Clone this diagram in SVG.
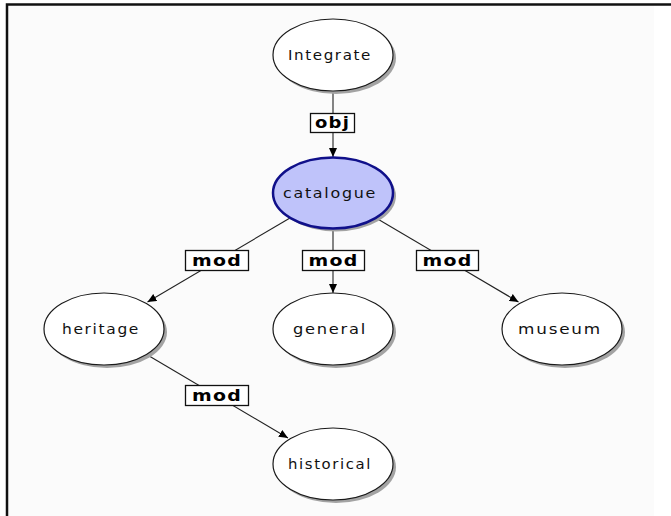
<svg xmlns="http://www.w3.org/2000/svg" width="671" height="516" viewBox="0 0 671 516">
<defs>
<marker id="arr" markerUnits="userSpaceOnUse" markerWidth="9" markerHeight="8" refX="9" refY="4" orient="auto">
<path d="M0,0 L9,4 L0,8 z" fill="#000"/>
</marker>
<style>
.shadow{fill:#a3a3a3}
.node{fill:#fff;stroke:#1a1a1a;stroke-width:1.2}
.focus{fill:#bfc3fa;stroke:#10108a;stroke-width:2.5}
.nt{font-family:"DejaVu Sans",sans-serif;font-size:14px;letter-spacing:1.5px;fill:#111;text-anchor:middle}
.edge{stroke:#222;stroke-width:1.1;fill:none;marker-end:url(#arr)}
.lbox{fill:#fff;stroke:#111;stroke-width:1.3}
.lt{font-family:"DejaVu Sans",sans-serif;font-size:15px;letter-spacing:1px;font-weight:bold;fill:#000;text-anchor:middle}
</style>
</defs>
<rect x="0" y="0" width="671" height="516" fill="#fff"/>
<rect x="8" y="6" width="646" height="510" fill="#fbfbfb"/>
<path d="M7,516 V4.5 H671" fill="none" stroke="#111" stroke-width="2.5"/>
<g id="connectors">
<line class="edge" x1="333" y1="92" x2="333" y2="157"/>
<line class="edge" x1="290" y1="218" x2="147.5" y2="302"/>
<line class="edge" x1="333" y1="229" x2="333" y2="293"/>
<line class="edge" x1="376" y1="218" x2="518.5" y2="302"/>
<line class="edge" x1="147.5" y1="355" x2="288" y2="438"/>
<g id="label-obj"><rect class="lbox" x="310.5" y="113.5" width="44" height="19"/><text class="lt" x="332.5" y="128" textLength="35" lengthAdjust="spacingAndGlyphs">obj</text></g>
<g id="label-mod1"><rect class="lbox" x="185.5" y="250.5" width="63" height="20"/><text class="lt" x="217" y="265.5" textLength="50" lengthAdjust="spacingAndGlyphs">mod</text></g>
<g id="label-mod2"><rect class="lbox" x="302.5" y="250.5" width="62" height="20"/><text class="lt" x="333.5" y="265.5" textLength="50" lengthAdjust="spacingAndGlyphs">mod</text></g>
<g id="label-mod3"><rect class="lbox" x="416.5" y="250.5" width="62" height="20"/><text class="lt" x="447.5" y="265.5" textLength="50" lengthAdjust="spacingAndGlyphs">mod</text></g>
<g id="label-mod4"><rect class="lbox" x="185.5" y="385.5" width="63" height="20"/><text class="lt" x="217" y="400.5" textLength="50" lengthAdjust="spacingAndGlyphs">mod</text></g>
</g>
<g id="integrate">
<ellipse class="shadow" cx="336" cy="58" rx="60" ry="36"/>
<ellipse class="node" cx="333" cy="55" rx="60" ry="36"/>
<text class="nt" x="330" y="60" textLength="84" lengthAdjust="spacingAndGlyphs">Integrate</text>
</g>
<g id="catalogue">
<ellipse class="shadow" cx="336" cy="196" rx="60" ry="35.5"/>
<ellipse class="focus" cx="333" cy="193" rx="60" ry="35.5"/>
<text class="nt" x="330" y="198" textLength="94" lengthAdjust="spacingAndGlyphs">catalogue</text>
</g>
<g id="heritage">
<ellipse class="shadow" cx="107" cy="332" rx="60" ry="36"/>
<ellipse class="node" cx="104" cy="329" rx="60" ry="36"/>
<text class="nt" x="101" y="334" textLength="78" lengthAdjust="spacingAndGlyphs">heritage</text>
</g>
<g id="general">
<ellipse class="shadow" cx="336" cy="332" rx="60" ry="36"/>
<ellipse class="node" cx="333" cy="329" rx="60" ry="36"/>
<text class="nt" x="330" y="334" textLength="74" lengthAdjust="spacingAndGlyphs">general</text>
</g>
<g id="museum">
<ellipse class="shadow" cx="565" cy="332" rx="60" ry="36"/>
<ellipse class="node" cx="562" cy="329" rx="60" ry="36"/>
<text class="nt" x="560" y="334" textLength="84" lengthAdjust="spacingAndGlyphs">museum</text>
</g>
<g id="historical">
<ellipse class="shadow" cx="336" cy="467" rx="60" ry="36"/>
<ellipse class="node" cx="333" cy="464" rx="60" ry="36"/>
<text class="nt" x="330" y="469" textLength="84" lengthAdjust="spacingAndGlyphs">historical</text>
</g>
</svg>
